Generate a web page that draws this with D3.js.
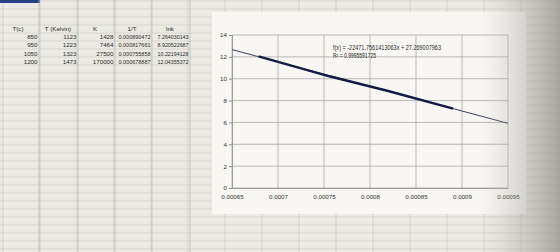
<!DOCTYPE html>
<html><head><meta charset="utf-8">
<script src="https://cdn.jsdelivr.net/npm/d3@7"></script>
<style>html,body{margin:0;padding:0;background:#eeede8;}svg{display:block;}</style>
</head><body>
<svg id="c" width="560" height="252"></svg>
<script>
// ---- data ----
const headers = ["T(c)", "T (Kelvin)", "K", "1/T", "lnk"];
const tempC = ["850", "950", "1050", "1200"];
const tempK = ["1123", "1223", "1323", "1473"];
const kValues = ["1428", "7464", "27500", "170000"];
const invT = [0.000890472, 0.000817661, 0.000755858, 0.000678887];
const lnK = [7.264030143, 8.920522687, 10.22194128, 12.04355372];
const invTText = ["0.000890472", "0.000817661", "0.000755858", "0.000678887"];
const lnKText = ["7.264030143", "8.920522687", "10.22194128", "12.04355372"];
const xTicks = [0.00065, 0.0007, 0.00075, 0.0008, 0.00085, 0.0009, 0.00095];
const xTickLabels = ["0.00065", "0.0007", "0.00075", "0.0008", "0.00085", "0.0009", "0.00095"];
const yTicks = [0, 2, 4, 6, 8, 10, 12, 14];
const trendSlope = -22471.7561413063;
const trendIntercept = 27.269007963;
const eqText = "f(x) = -22471.7561413063x + 27.269007963";
const r2Text = "R² = 0.9995591725";

const svg = d3.select("#c");
const W = 560, H = 252;
const FONT = "Liberation Sans, Arial, sans-serif";
const defs = svg.append("defs");
const g1 = defs.append("linearGradient").attr("id","vig").attr("x1",0).attr("x2",1).attr("y1",0).attr("y2",0);
g1.append("stop").attr("offset","0").attr("stop-color","#bdbcb6").attr("stop-opacity",0);
g1.append("stop").attr("offset","1").attr("stop-color","#8f8e8a").attr("stop-opacity",0.75);

// spreadsheet background grid
svg.append("rect").attr("width",W).attr("height",H).attr("fill","#eceae4");
const colX = d3.range(0, W, 37).map(v => v + 3);
const rowY = d3.range(1, H, 8);
svg.append("g").selectAll("line").data(colX).join("line")
  .attr("x1",d=>d).attr("x2",d=>d).attr("y1",0).attr("y2",H)
  .attr("stroke","#cbcac4").attr("stroke-width",0.8);
svg.append("g").selectAll("line").data(rowY).join("line")
  .attr("x1",0).attr("x2",W).attr("y1",d=>d).attr("y2",d=>d)
  .attr("stroke","#d2d1cb").attr("stroke-width",0.8);

// selected cell top-left
svg.append("rect").attr("x",0).attr("y",0).attr("width",40).attr("height",3).attr("fill","#2a3f8a");

// table
const tbl = svg.append("g").attr("font-family",FONT).attr("font-size",6.2).attr("fill","#2a2a2a");
const colRight = [39, 78, 115, 152, 190];
const colCenter = [18, 58, 95, 132, 170];
const colFit = [null, null, null, 32, 31];
const tLines = [39, 78, 115, 152, 190];
tbl.selectAll("line.v").data(tLines).join("line").attr("class","v")
  .attr("x1",d=>d).attr("x2",d=>d).attr("y1",0).attr("y2",H)
  .attr("stroke","#bdbcb6").attr("stroke-width",0.8);
tbl.selectAll("text.h").data(headers).join("text").attr("class","h")
  .attr("x",(d,i)=>colCenter[i]).attr("y",31).attr("text-anchor","middle").text(d=>d);
const rows = tempC.map((d,i)=>[d, tempK[i], kValues[i], invTText[i], lnKText[i]]);
rows.forEach((r,ri)=>{
  tbl.selectAll("text.r"+ri).data(r).join("text").attr("class","r"+ri)
    .attr("x",(d,i)=>colRight[i]-1.5).attr("y",39+ri*8.3).attr("text-anchor","end")
    .each(function(d,i){ if (colFit[i]) d3.select(this).attr("textLength",colFit[i]).attr("lengthAdjust","spacingAndGlyphs"); })
    .text(d=>d);
});

// chart area
svg.append("rect").attr("x",212).attr("y",12).attr("width",314).attr("height",202).attr("fill","#f8f7f4");

const x = d3.scaleLinear().domain([0.00065, 0.00095]).range([232, 508]);
const y = d3.scaleLinear().domain([0, 14]).range([188, 35]);

// gridlines
const grid = svg.append("g").attr("stroke","#a9a9a6").attr("stroke-width",0.8);
grid.selectAll("line.gx").data(xTicks).join("line").attr("class","gx")
  .attr("x1",d=>x(d)).attr("x2",d=>x(d)).attr("y1",y(14)).attr("y2",y(0));
grid.selectAll("line.gy").data(yTicks).join("line").attr("class","gy")
  .attr("x1",x(0.00065)).attr("x2",x(0.00095)).attr("y1",d=>y(d)).attr("y2",d=>y(d));

// axes
const ax = svg.append("g").attr("transform",`translate(0,${y(0)})`)
  .call(d3.axisBottom(x).tickValues(xTicks).tickFormat((d,i)=>xTickLabels[i]).tickSize(0).tickPadding(7));
const ay = svg.append("g").attr("transform",`translate(${x(0.00065)},0)`)
  .call(d3.axisLeft(y).tickValues(yTicks).tickSize(3).tickPadding(2));
[ax, ay].forEach(a=>{
  a.select(".domain").attr("stroke","#8d8d8a").attr("stroke-width",0.8);
  a.selectAll(".tick line").attr("stroke","#8d8d8a");
  a.selectAll("text").attr("font-family",FONT).attr("font-size",6.2).attr("fill","#333");
});

// trend line
const trendPts = [0.00065, 0.00095].map(v => [v, trendSlope * v + trendIntercept]);
svg.append("path").datum(trendPts)
  .attr("d", d3.line().x(d=>x(d[0])).y(d=>y(d[1])))
  .attr("fill","none").attr("stroke","#3a3f5c").attr("stroke-width",1);

// data line
const pts = invT.map((v,i)=>[v, lnK[i]]).sort((a,b)=>a[0]-b[0]);
svg.append("path").datum(pts)
  .attr("d", d3.line().x(d=>x(d[0])).y(d=>y(d[1])))
  .attr("fill","none").attr("stroke","#151a45").attr("stroke-width",2.4);

// equation labels
const eq = svg.append("g").attr("font-family",FONT).attr("font-size",6.4).attr("fill","#2a2a2a");
eq.append("text").attr("x",333).attr("y",50).attr("textLength",108).attr("lengthAdjust","spacingAndGlyphs").text(eqText);
eq.append("text").attr("x",333).attr("y",58).attr("textLength",43).attr("lengthAdjust","spacingAndGlyphs").text(r2Text);

// right vignette
svg.append("rect").attr("x",480).attr("y",0).attr("width",80).attr("height",H).attr("fill","url(#vig)");
</script>
</body></html>
